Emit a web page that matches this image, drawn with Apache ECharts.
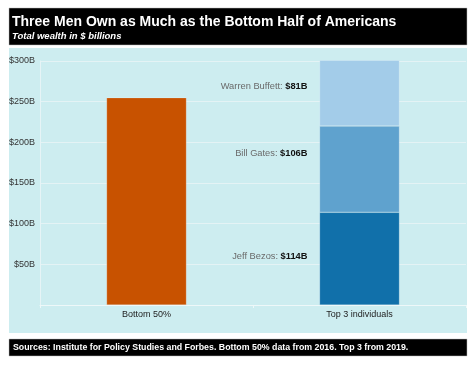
<!DOCTYPE html>
<html>
<head>
<meta charset="utf-8">
<script src="https://cdn.jsdelivr.net/npm/echarts@6/dist/echarts.min.js"></script>
<style>
html,body{margin:0;padding:0;background:#fff;}
#c{width:475px;height:365px;}
</style>
</head>
<body>
<div id="c"></div>
<script>
var categories = ['Bottom 50%', 'Top 3 individuals'];
var bottomHalf = [255, '-'];
var bezos = ['-', 114];
var gates = ['-', 106];
var buffett = ['-', 81];
var personNames = ['Jeff Bezos', 'Bill Gates', 'Warren Buffett'];
var yTicks = [0, 50, 100, 150, 200, 250, 300];
var titleText = 'Three Men Own as Much as the Bottom Half of Americans';
var subtitleText = 'Total wealth in $ billions';
var sourceText = 'Sources: Institute for Policy Studies and Forbes. Bottom 50% data from 2016. Top 3 from 2019.';

var FONT = '"Liberation Sans", Arial, sans-serif';
var chart = echarts.init(document.getElementById('c'), null, {renderer: 'canvas'});

function personLabel(name, offsetY) {
  return {
    show: true,
    position: 'left',
    distance: 12,
    offset: [0, offsetY],
    formatter: function (p) {
      return '{n|' + name + ': }{v|$' + p.value + 'B}';
    },
    rich: {
      n: {color: '#6a6a6a', fontSize: 9.3, fontFamily: FONT},
      v: {color: '#111', fontSize: 9.3, fontWeight: 'bold', fontFamily: FONT}
    }
  };
}

var barBorder = {borderColor: 'rgba(255,255,255,0.35)', borderWidth: 0.6};

chart.setOption({
  animation: false,
  backgroundColor: '#ffffff',
  graphic: [
    {type: 'rect', z: -20, silent: true, shape: {x: 9, y: 8, width: 458, height: 37}, style: {fill: '#000', stroke: '#bbb', lineWidth: 0.5}},
    {type: 'text', z: -19, silent: true, left: 12, top: 15, style: {text: titleText, fill: '#fff', font: 'bold 14px ' + FONT}},
    {type: 'text', z: -19, silent: true, left: 12, top: 31, style: {text: subtitleText, fill: '#fff', font: 'italic bold 9.5px ' + FONT}},
    {type: 'rect', z: -20, silent: true, shape: {x: 9, y: 48, width: 458, height: 285}, style: {fill: '#cdedf0'}},
    {type: 'rect', z: -20, silent: true, shape: {x: 9, y: 339, width: 458, height: 17}, style: {fill: '#000', stroke: '#bbb', lineWidth: 0.5}},
    {type: 'text', z: -19, silent: true, left: 13, top: 343, style: {text: sourceText, fill: '#fff', font: 'bold 8.8px ' + FONT}}
  ],
  grid: {left: 40, right: 9, top: 61, bottom: 60, containLabel: false},
  xAxis: {
    type: 'category',
    data: categories,
    axisLine: {show: true, lineStyle: {color: '#eef8f9', width: 1}},
    axisTick: {show: true, length: 3, lineStyle: {color: '#eef8f9'}},
    axisLabel: {color: '#222', fontSize: 9, fontFamily: FONT, margin: 5},
    splitLine: {show: false}
  },
  yAxis: {
    type: 'value',
    min: yTicks[0],
    max: yTicks[yTicks.length - 1],
    interval: 50,
    axisLine: {show: true, lineStyle: {color: '#e6f4f6', width: 1}},
    axisTick: {show: false},
    axisLabel: {
      color: '#333', fontSize: 9, fontFamily: FONT, margin: 5,
      formatter: function (v) { return v === 0 ? '' : '$' + v + 'B'; }
    },
    splitLine: {show: true, lineStyle: {color: '#e4f3f5', width: 1}}
  },
  series: [
    {name: 'Bottom 50%', type: 'bar', stack: 'total', barWidth: 80, clip: false, data: bottomHalf,
      itemStyle: Object.assign({color: '#c85200'}, barBorder)},
    {name: personNames[0], type: 'bar', stack: 'total', barWidth: 80, clip: false, data: bezos,
      itemStyle: Object.assign({color: '#1170aa'}, barBorder), label: personLabel(personNames[0], -2)},
    {name: personNames[1], type: 'bar', stack: 'total', barWidth: 80, clip: false, data: gates,
      itemStyle: Object.assign({color: '#5fa2ce'}, barBorder), label: personLabel(personNames[1], -16)},
    {name: personNames[2], type: 'bar', stack: 'total', barWidth: 80, clip: false, data: buffett,
      itemStyle: Object.assign({color: '#a3cce9'}, barBorder), label: personLabel(personNames[2], -7)}
  ]
});
</script>
</body>
</html>
